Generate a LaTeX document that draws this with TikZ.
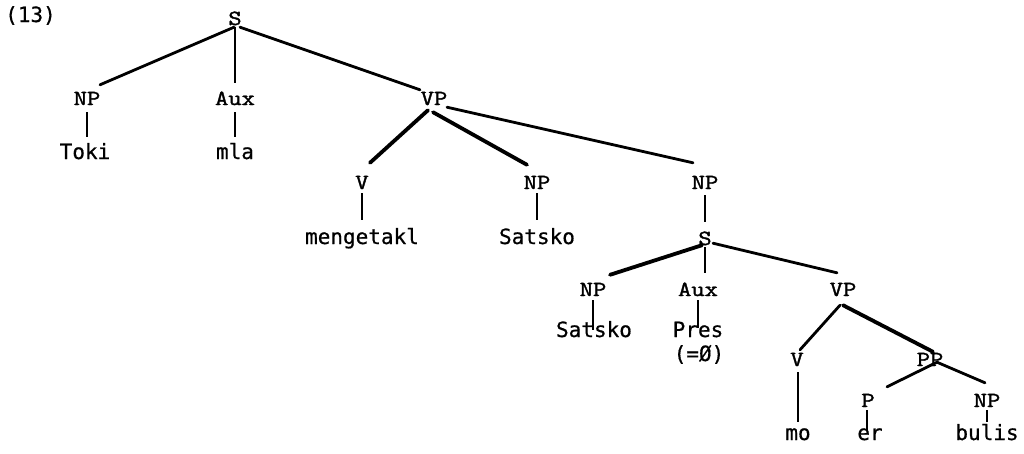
\documentclass[tikz,border=0pt]{standalone}
\usepackage{fontspec}
\newfontfamily\catfont{Latin Modern Mono}[FakeStretch=1.2,FakeBold=1.6]
\newfontfamily\wordfont{DejaVu Sans Mono}[FakeBold=0.6]
\begin{document}
\begin{tikzpicture}[x=1pt,y=-1pt,
  cat/.style={font=\catfont\fontsize{21.5}{24}\selectfont, inner sep=0pt, anchor=base, text height=12pt, text depth=0pt},
  word/.style={font=\wordfont\fontsize{21}{24}\selectfont, inner sep=0pt, anchor=base, text height=16pt, text depth=0pt},
  br/.style={line width=2.8pt, line cap=round},
  hv/.style={line width=3.8pt, line cap=round},
  tn/.style={line width=1.7pt},
  vt/.style={line width=2.2pt}]
\useasboundingbox (0,0) rectangle (1024,453);

% example number
\node[word, anchor=base west] (num) at (5,22) {(13)};

% matrix clause
\node[cat] (S1) at (235,25) {S};
\node[cat] (NP1) at (87,105) {NP};
\node[cat] (Aux1) at (235,105) {Aux};
\node[cat] (VP1) at (434,105) {VP};
\node[word] (toki) at (85,159) {Toki};
\node[word] (mla) at (235,159) {mla};

\node[cat] (V1) at (362,189) {V};
\node[cat] (NP2) at (537,189) {NP};
\node[cat] (NP3) at (705,189) {NP};
\node[word] (meng) at (362,244) {mengetakl};
\node[word] (sats1) at (537,244) {Satsko};

% embedded clause
\node[cat] (S2) at (705,245) {S};
\node[cat] (NP4) at (593,296) {NP};
\node[cat] (Aux2) at (698,296) {Aux};
\node[cat] (VP2) at (843,296) {VP};
\node[word] (sats2) at (594,337) {Satsko};
\node[word] (pres) at (698,337) {Pres};
\node[word] (zero) at (699,361) {(=Ø)};

\node[cat] (V2) at (797,366) {V};
\node[cat] (PP) at (930,366) {PP};
\node[cat] (P) at (868,407) {P};
\node[cat] (NP5) at (987,407) {NP};
\node[word] (mo) at (798,440) {mo};
\node[word] (er) at (870,440) {er};
\node[word] (bulis) at (987,440) {bulis};

% branches of the matrix clause
\draw[br] ([xshift=-1pt,yshift=-2pt]S1.south) -- ([xshift=13pt,yshift=8pt]NP1.north);
\draw[tn] ([yshift=-2pt]S1.south) -- ([yshift=10pt]Aux1.north);
\draw[br] ([xshift=5pt,yshift=-2pt]S1.south) -- ([xshift=-14pt,yshift=3pt]VP1.north);
\draw[vt] ([yshift=-7pt]NP1.south) -- ([xshift=2pt,yshift=6pt]toki.north);
\draw[vt] ([yshift=-7pt]Aux1.south) -- ([yshift=6pt]mla.north);

\draw[hv] ([xshift=-6pt,yshift=-5pt]VP1.south) -- ([xshift=8pt,yshift=14pt]V1.north);
\draw[hv] ([xshift=-1pt,yshift=-7pt]VP1.south) -- ([xshift=-10pt,yshift=12pt]NP2.north);
\draw[br] ([xshift=13pt,yshift=-2pt]VP1.south) -- ([xshift=-12pt,yshift=14pt]NP3.north);
\draw[vt] ([yshift=-4pt]V1.south) -- ([yshift=8pt]meng.north);
\draw[vt] ([yshift=-4pt]NP2.south) -- ([yshift=8pt]sats1.north);
\draw[vt] ([yshift=-6pt]NP3.south) -- ([yshift=11pt]S2.north);

% branches of the embedded clause
\draw[hv] ([xshift=-3pt]S2.south) -- ([xshift=17pt,yshift=9pt]NP4.north);
\draw[tn] ([yshift=-2pt]S2.south) -- ([xshift=7pt,yshift=11pt]Aux2.north);
\draw[br] ([xshift=8pt,yshift=2pt]S2.south) -- ([xshift=-6pt,yshift=11pt]VP2.north);
\draw[vt] ([yshift=-4pt]NP4.south) -- ([xshift=-1pt,yshift=-9pt]sats2.north);
\draw[vt] ([yshift=-4pt]Aux2.south) -- ([yshift=-7pt]pres.north);

\draw[br] ([xshift=-3pt,yshift=-9pt]VP2.south) -- ([xshift=3pt,yshift=4pt]V2.north);
\draw[hv] ([yshift=-9pt]VP2.south) -- ([xshift=3pt,yshift=2pt]PP.north);
\draw[vt] ([xshift=1pt,yshift=-6pt]V2.south) -- ([yshift=2pt]mo.north);
\draw[br] ([xshift=7pt,yshift=4pt]PP.south) -- ([xshift=19pt,yshift=8pt]P.north);
\draw[br] ([xshift=7pt,yshift=4pt]PP.south) -- ([xshift=-2pt,yshift=12pt]NP5.north);
\draw[vt] ([xshift=-1pt,yshift=-3pt]P.south) -- ([xshift=-3pt,yshift=-6pt]er.north);
\draw[vt] ([yshift=-3pt]NP5.south) -- ([yshift=2pt]bulis.north);
\end{tikzpicture}
\end{document}
